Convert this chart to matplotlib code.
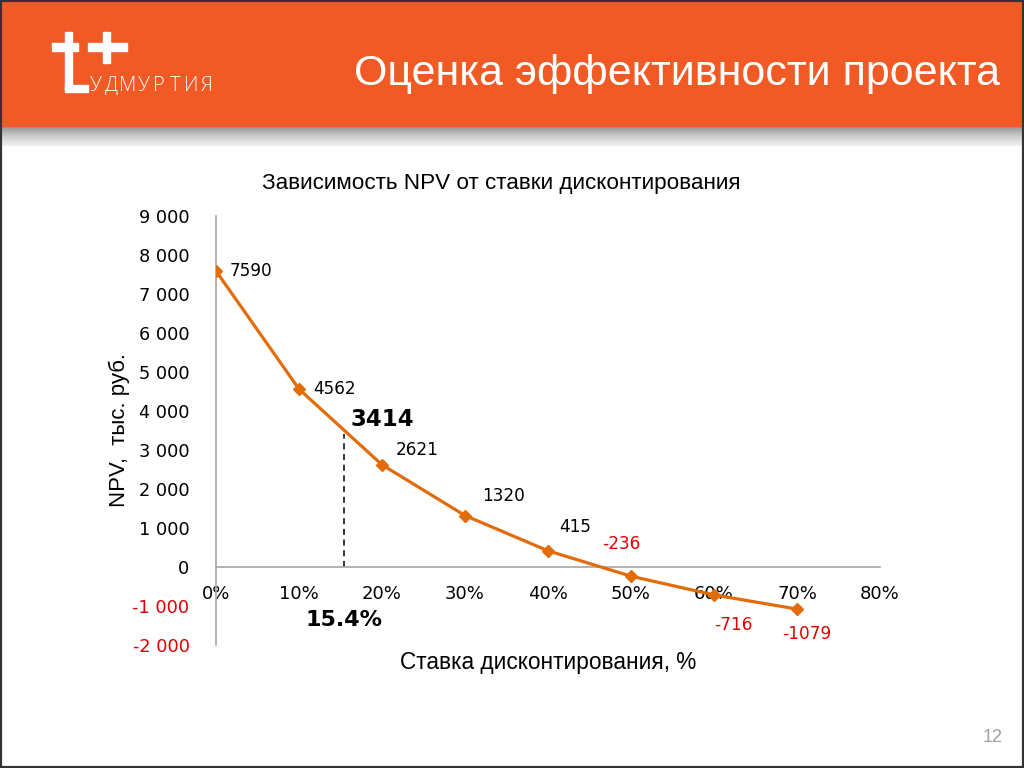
import numpy as np
import matplotlib
matplotlib.use("Agg")
import matplotlib.pyplot as plt
from matplotlib.patches import Rectangle
from matplotlib.ticker import FuncFormatter

# data
rates = [0.0, 0.1, 0.2, 0.3, 0.4, 0.5, 0.6, 0.7]
npv = [7590, 4562, 2621, 1320, 415, -236, -716, -1079]
irr = 0.154
irr_npv = 3414
x_ticks = [0.0, 0.1, 0.2, 0.3, 0.4, 0.5, 0.6, 0.7, 0.8]
y_ticks = [-2000, -1000, 0, 1000, 2000, 3000, 4000, 5000, 6000, 7000, 8000, 9000]

slide_title = "Оценка эффективности проекта"
chart_title = "Зависимость NPV от ставки дисконтирования"
x_title = "Ставка дисконтирования, %"
y_title = "NPV,  тыс. руб."
logo_text = "УДМУРТИЯ"

W, H = 1024, 768
fig = plt.figure(figsize=(W / 100, H / 100), dpi=100)
fig.patch.set_facecolor("white")

def fx(px):
    return px / W

def fy(py):
    return 1 - py / H

# header band
orange = "#F15A24"
fig.patches.append(Rectangle((0, fy(126)), 1, 126 / H, transform=fig.transFigure,
                             color=orange, zorder=1))
# shadow under header
sh = fig.add_axes([0, fy(146), 1, 20 / H])
grad = np.linspace(0, 1, 50).reshape(-1, 1)
sh.imshow(grad, aspect="auto", cmap="Greys_r", vmin=-1.2, vmax=1.3,
          extent=[0, 1, 0, 1])
sh.axis("off")

fig.text(fx(1000), fy(74), slide_title, color="white", fontsize=31,
         family="Liberation Sans", ha="right", va="center")

# logo
logo_parts = [
    (65, 32, 7, 58),    # t stem
    (52, 43, 26, 8),    # t bar
    (65, 85, 23, 7),    # t foot
    (103, 32, 7, 31),   # plus stem
    (88, 43, 39, 8),    # plus bar
]
for x0, y0, w, h in logo_parts:
    fig.patches.append(Rectangle((fx(x0), fy(y0 + h)), w / W, h / H,
                                 transform=fig.transFigure, color="white", zorder=3))
for i, ch in enumerate(logo_text):
    fig.text(fx(96 + i * 15.8), fy(86), ch, color="white", fontsize=14.5,
             family="Open Sans", weight="light", ha="center", va="center")

# chart
ax = fig.add_axes([fx(216), fy(645), fx(880) - fx(216), (645 - 216) / H])
line_col = "#E36C0A"
ax.plot(rates, npv, color=line_col, lw=2.3, marker="D", ms=6, zorder=3)
ax.plot([irr, irr], [0, irr_npv], color="black", ls=(0, (4, 3)), lw=1.1, zorder=2)

ax.set_xlim(0, 0.8)
ax.set_ylim(-2000, 9000)
ax.set_xticks(x_ticks)
ax.set_yticks(y_ticks)
ax.xaxis.set_major_formatter(FuncFormatter(lambda v, p: f"{v*100:.0f}%"))
ax.yaxis.set_major_formatter(
    FuncFormatter(lambda v, p: f"{int(v):,}".replace(",", " ")))
for s in ["top", "right"]:
    ax.spines[s].set_visible(False)
ax.spines["bottom"].set_position(("data", 0))
for s in ["bottom", "left"]:
    ax.spines[s].set_color("#A6A6A6")
    ax.spines[s].set_linewidth(1.2)
ax.tick_params(axis="x", length=0, pad=13, labelsize=13)
ax.tick_params(axis="y", length=0, pad=19, labelsize=12.8)
for lab, v in zip(ax.get_yticklabels(), y_ticks):
    lab.set_color("#E00000" if v < 0 else "black")

offsets = [(10, 0), (10, 0), (10, 11), (12, 14), (8, 17), (-7, 23), (0, -22), (7, -18)]
aligns = ["left", "left", "left", "left", "left", "center", "left", "center"]
for x, y, off, ha in zip(rates, npv, offsets, aligns):
    ax.annotate(str(y), (x, y), xytext=off, textcoords="offset points",
                ha=ha, va="center", fontsize=12.2,
                color="#E00000" if y < 0 else "black")

ax.annotate(str(irr_npv), (irr, irr_npv), xytext=(5, 2), textcoords="offset points",
            ha="left", va="bottom", fontsize=16.5, weight="bold")
ax.annotate(f"{irr*100:.1f}%", (irr, 0), xytext=(0, -38), textcoords="offset points",
            ha="center", va="center", fontsize=16, weight="bold")

fig.text(fx(501), fy(183), chart_title, fontsize=16.2, family="Liberation Sans",
         ha="center", va="center")
fig.text(fx(548), fy(662), x_title, fontsize=16.3, family="Liberation Sans",
         ha="center", va="center")
fig.text(fx(119), fy(430), y_title, fontsize=16, family="Liberation Sans",
         ha="center", va="center", rotation=90)

fig.text(fx(1003), fy(737), "12", fontsize=13, color="#A0A0A0",
         family="Liberation Sans", ha="right", va="center")

# frame
fig.patches.append(Rectangle((0, 0), 1, 1, transform=fig.transFigure, fill=False,
                             ec="#333333", lw=3, zorder=10))

fig.savefig("out.png", dpi=100)
